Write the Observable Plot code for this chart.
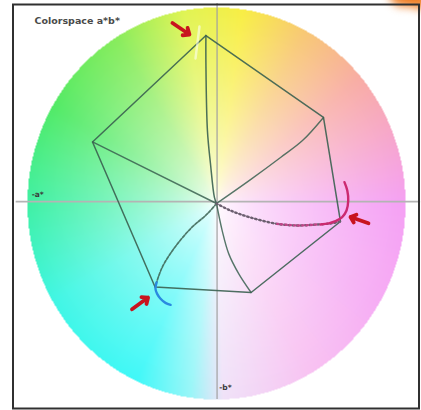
<!DOCTYPE html>
<html><head><meta charset="utf-8">
<script src="https://cdn.jsdelivr.net/npm/d3@7"></script>
<script src="https://cdn.jsdelivr.net/npm/@observablehq/plot@0.6"></script>
<style>body{margin:0;background:#fff}</style>
</head><body><div id="chart"></div>
<script>
// ---- data (a*, b* units; circle radius = 100) ----
const title = [{a: -96.3, b: 92.9, text: "Colorspace a*b*"}];
const axisLabels = [
  {a: -97.8, b: 4.6, text: "-a*"},
  {a: 1.4, b: -93.9, text: "-b*"}
];
const axisV = [{a: 0.3, b1: -100, b2: 102}];
const axisH = [{b: 1.0, a1: -106, a2: 108}];
// outer hexagon (closed)
const outline = [
  {a: -5.6, b: 85.7}, {a: 56.6, b: 43.9}, {a: 65.6, b: -9.2}, {a: 18.3, b: -45.4},
  {a: -32.5, b: -42.6}, {a: -65.6, b: 31.4}, {a: -5.6, b: 85.7}
];
const spokeLeft = [{a: 0, b: 0}, {a: -65.6, b: 31.4}];
const spokeTop = [
  {a: 0, b: 0}, {a: -1.1, b: 3.1}, {a: -3.2, b: 20.4}, {a: -4.8, b: 37.2},
  {a: -5.6, b: 71.4}, {a: -5.6, b: 85.7}
];
const spokeRightTop = [
  {a: 0, b: 0}, {a: 18, b: 12.2}, {a: 33.9, b: 23.5}, {a: 45.5, b: 32.1}, {a: 56.6, b: 43.9}
];
const spokeBottomRight = [
  {a: 0, b: 0}, {a: 3.0, b: -13.8}, {a: 6.5, b: -25.7}, {a: 11.8, b: -35.9}, {a: 18.3, b: -45.4}
];
const spokeBottomLeft = [
  {a: 0, b: 0}, {a: -4.9, b: -5.3}, {a: -13.8, b: -12.9}, {a: -22.6, b: -23.1},
  {a: -28.7, b: -32.5}, {a: -32.5, b: -42.6}
];
const spokeRightBottom = [
  {a: 0, b: 0}, {a: 7.4, b: -3.6}, {a: 17.5, b: -7.0}, {a: 32.1, b: -10.4},
  {a: 42.7, b: -11.2}, {a: 53.3, b: -10.7}, {a: 60.3, b: -10.2}, {a: 65.6, b: -9.2}
];
const magentaTail = [
  {a: 32.1, b: -10.4}, {a: 42.7, b: -11.2}, {a: 53.3, b: -10.7}
];
const magentaArc = [
  {a: 67.7, b: 10.9}, {a: 69.2, b: 6.6}, {a: 69.7, b: 1.5}, {a: 68.8, b: -3.6},
  {a: 66.5, b: -7.0}, {a: 63.0, b: -9.0}, {a: 59.4, b: -10.1}, {a: 55.0, b: -10.7}
];
const blueArc = [
  {a: -31.7, b: -40.3}, {a: -32.3, b: -43.5}, {a: -31.4, b: -46.1},
  {a: -29.6, b: -48.6}, {a: -27.0, b: -50.7}, {a: -24.3, b: -51.7}
];
const arrows = [
  {a1: -23.3, b1: 92.1, a2: -14.3, b2: 86.2},
  {a1: 80.4, b1: -10.1, a2: 70.9, b2: -6.9},
  {a1: -44.7, b1: -54.0, a2: -36.2, b2: -48.0}
];
const glare = [{a: -9.0, b: 90.3}, {a: -11.1, b: 74.0}];
const glow = [{a: 99, b: 108}, {a: 107, b: 107}];

// ---- hue palette for the background wheel (angle in degrees, colour) ----
const hueStops = [
  [0, "#f5a0f4"], [40, "#f8aca4"], [62, "#f8c874"], [82, "#f8ee44"], [100, "#e0f454"],
  [122, "#88ec5c"], [150, "#52ea66"], [180, "#40f0a4"], [210, "#40f6e4"], [245, "#40f8f8"],
  [262, "#98f6f8"], [272, "#f0e2f8"], [300, "#f8c2f2"], [330, "#f6acf4"], [360, "#f5a0f4"]
];
function hueColor(deg) {
  for (let i = 1; i < hueStops.length; ++i) {
    if (deg <= hueStops[i][0]) {
      const [d0, c0] = hueStops[i - 1], [d1, c1] = hueStops[i];
      return d3.interpolateRgb(c0, c1)((deg - d0) / (d1 - d0));
    }
  }
  return hueStops[0][1];
}
function wheel(x, y) {
  const r = Math.hypot(x, y) / 100;
  if (r > 1) return "#ffffff";
  let deg = Math.atan2(y, x) * 180 / Math.PI;
  if (deg < 0) deg += 360;
  const t = Math.pow(r, 0.65);
  return d3.interpolateRgb("#ffffff", hueColor(deg))(t);
}

const edge = "#3a6050";
const chart = Plot.plot({
  width: 421, height: 410,
  marginLeft: 12.5, marginTop: 4, marginRight: 2.5, marginBottom: 2,
  x: {domain: [-100, 100], range: [27, 405], axis: null},
  y: {domain: [-100, 100], range: [399, 7], axis: null},
  color: {type: "identity"},
  marks: [
    Plot.raster({x1: -100, x2: 100, y1: -100, y2: 100, width: 378, height: 392, fill: wheel}),
    Plot.ruleX(axisV, {x: "a", y1: "b1", y2: "b2", stroke: "#a0a0a0", strokeWidth: 1.2}),
    Plot.ruleY(axisH, {y: "b", x1: "a1", x2: "a2", stroke: "#b4b4b4", strokeWidth: 1.8}),
    Plot.line(outline, {x: "a", y: "b", stroke: edge, strokeWidth: 1.5, strokeOpacity: 0.9}),
    Plot.line(spokeLeft, {x: "a", y: "b", stroke: edge, strokeWidth: 1.4, strokeOpacity: 0.85}),
    Plot.line(spokeTop, {x: "a", y: "b", stroke: edge, strokeWidth: 1.5, strokeOpacity: 0.9, curve: "catmull-rom"}),
    Plot.line(spokeRightTop, {x: "a", y: "b", stroke: edge, strokeWidth: 1.4, strokeOpacity: 0.85, curve: "catmull-rom"}),
    Plot.line(spokeBottomRight, {x: "a", y: "b", stroke: edge, strokeWidth: 1.4, strokeOpacity: 0.85, curve: "catmull-rom"}),
    Plot.line(spokeBottomLeft, {x: "a", y: "b", stroke: edge, strokeWidth: 1.7, strokeOpacity: 0.85, strokeDasharray: "3,1.5", curve: "catmull-rom"}),
    Plot.line(spokeRightBottom, {x: "a", y: "b", stroke: "#8a7f8c", strokeWidth: 1, curve: "catmull-rom"}),
    Plot.line(spokeRightBottom, {x: "a", y: "b", stroke: "#6c5f70", strokeWidth: 2.4, strokeDasharray: "1.2,3", curve: "catmull-rom"}),
    Plot.line(magentaTail, {x: "a", y: "b", stroke: "#c04488", strokeWidth: 2.4, strokeDasharray: "1.2,3", curve: "catmull-rom"}),
    Plot.line(magentaArc, {x: "a", y: "b", stroke: "#cc2a70", strokeWidth: 2.4, curve: "catmull-rom"}),
    Plot.line(blueArc, {x: "a", y: "b", stroke: "#2a8ae0", strokeWidth: 2.4, curve: "catmull-rom"}),
    Plot.line(glare, {x: "a", y: "b", stroke: "#ffffff", strokeWidth: 2.5, strokeOpacity: 0.55}),
    Plot.arrow(arrows, {x1: "a1", y1: "b1", x2: "a2", y2: "b2", stroke: "#c8141e", strokeWidth: 3.8, headLength: 6, headAngle: 80}),
    Plot.dot(glow, {x: "a", y: "b", r: 15, fill: "#f07818", fillOpacity: 0.9, imageFilter: "blur(4px)"}),
    Plot.frame({stroke: "#303030", strokeWidth: 2}),
    Plot.text(title, {x: "a", y: "b", text: "text", textAnchor: "start", fontFamily: "DejaVu Sans", fontWeight: "bold", fontSize: 9.5, fill: "#4a4a4a"}),
    Plot.text(axisLabels, {x: "a", y: "b", text: "text", textAnchor: "start", fontFamily: "DejaVu Sans", fontWeight: "bold", fontSize: 7.5, fill: "#3a3a3a"})
  ]
});
document.getElementById("chart").append(chart);
</script>
</body></html>
